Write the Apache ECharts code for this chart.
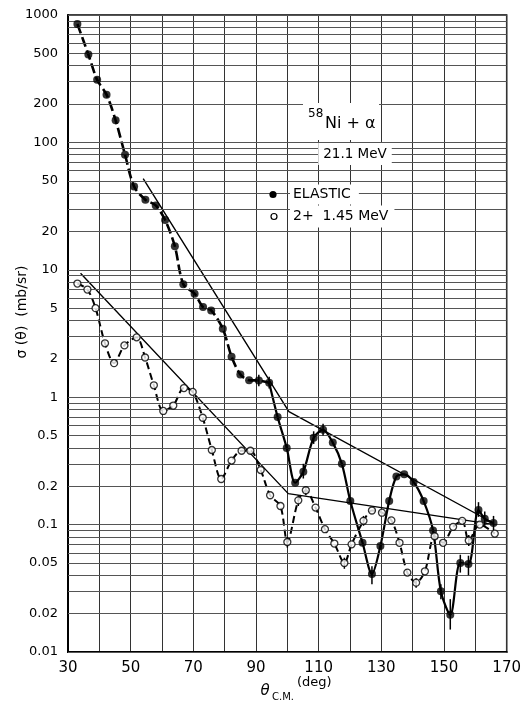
<!DOCTYPE html>
<html><head><meta charset="utf-8">
<script src="https://cdn.jsdelivr.net/npm/echarts/dist/echarts.min.js"></script>
<style>html,body{margin:0;padding:0;background:#fff}#c{width:524px;height:702px}</style>
</head><body><div id="c"></div>
<script>
// ---- data ----
const elasticTheta = [33, 36.5, 39.3, 42.3, 45.2, 48.2, 51.1, 54.7, 58, 61,
  64.1, 66.8, 70.4, 73.1, 75.7, 79.4, 82.2, 85, 87.8, 90.9,
  94.2, 96.9, 99.8, 102.5, 105.1, 108.4, 111.4, 114.5, 117.4, 120.1,
  124, 127, 129.7, 132.5, 134.8, 137.3, 140.3, 143.5, 146.5, 149,
  152, 155.2, 157.8, 161, 163, 165.8];
const elasticSigma = [850, 490, 310, 237, 149, 80, 45, 35.5, 32, 24.6,
  15.3, 7.7, 6.5, 5.1, 4.8, 3.45, 2.08, 1.51, 1.36, 1.35,
  1.3, 0.7, 0.4, 0.213, 0.26, 0.48, 0.555, 0.44, 0.30, 0.153,
  0.072, 0.041, 0.068, 0.153, 0.238, 0.248, 0.216, 0.153, 0.09, 0.030,
  0.0196, 0.050, 0.049, 0.13, 0.111, 0.103];

const inelasticTheta = [33, 36.2, 38.8, 41.8, 44.7, 48, 51.9, 54.6, 57.4, 60.4,
  63.6, 67, 69.8, 73, 75.9, 78.9, 82.2, 85.4, 88.2, 91.5,
  94.5, 97.8, 100, 103.5, 105.9, 109, 112, 115, 118.2, 120.5,
  124.3, 127, 130.2, 133.2, 135.8, 138.3, 141.1, 143.9, 147, 149.7,
  152.9, 155.8, 157.9, 161.4, 166.2];
const inelasticSigma = [7.8, 7.0, 5.0, 2.65, 1.85, 2.55, 2.95, 2.05, 1.24, 0.78,
  0.86, 1.18, 1.1, 0.69, 0.385, 0.228, 0.318, 0.38, 0.38, 0.268,
  0.17, 0.14, 0.073, 0.155, 0.186, 0.136, 0.092, 0.071, 0.050, 0.070,
  0.107, 0.129, 0.124, 0.108, 0.072, 0.042, 0.035, 0.043, 0.081, 0.072,
  0.096, 0.107, 0.075, 0.10, 0.085];

const elasticErrTheta = [90.9, 94.2, 105.1, 108.4, 111.4, 127, 149, 152, 155.2, 157.8, 161, 163, 165.8];
const elasticErrLow   = [1.22, 1.17, 0.23, 0.43, 0.5, 0.034, 0.026, 0.015, 0.042, 0.040, 0.115, 0.098, 0.09];
const elasticErrHigh  = [1.5, 1.45, 0.3, 0.54, 0.62, 0.047, 0.034, 0.026, 0.058, 0.057, 0.15, 0.127, 0.117];
const inelasticErrTheta = [100, 103.5, 105.9, 118.2, 124.3, 141.1, 147, 157.9];
const inelasticErrLow   = [0.066, 0.14, 0.17, 0.045, 0.098, 0.032, 0.075, 0.068];
const inelasticErrHigh  = [0.080, 0.17, 0.2, 0.055, 0.117, 0.038, 0.087, 0.083];

const envElasticTheta = [54, 100.5, 166];
const envElasticSigma = [52, 0.77, 0.102];
const envInelasticTheta = [34, 100.3, 166.2];
const envInelasticSigma = [9.4, 0.175, 0.1];

const yTickLabels = ['1000', '500', '200', '100', '50', '20', '10', '5', '2', '1', '0.5', '0.2', '0.1', '0.05', '0.02', '0.01'];
const xTickLabels = ['30', '50', '70', '90', '110', '130', '150', '170'];
const gridMantissas = [1, 2, 3, 4, 5, 6, 7, 8, 9];
const gridDecades = [0.01, 0.1, 1, 10, 100];

// ---- chart ----
const FONT = 'DejaVu Sans';
const pairs = (xs, ys) => xs.map((x, i) => [x, ys[i]]);
const elastic = pairs(elasticTheta, elasticSigma);
const inelastic = pairs(inelasticTheta, inelasticSigma);
const split = elasticTheta.indexOf(94.2);

const gridValues = [];
gridDecades.forEach(d => gridMantissas.forEach(m => gridValues.push(+(m * d).toPrecision(3))));
gridValues.push(1000);
const labelOf = v => yTickLabels.find(s => Math.abs(parseFloat(s) - v) < 1e-9 * Math.max(1, v));

const errRows = [];
elasticErrTheta.forEach((x, i) => errRows.push([x, elasticErrLow[i], elasticErrHigh[i]]));
inelasticErrTheta.forEach((x, i) => errRows.push([x, inelasticErrLow[i], inelasticErrHigh[i]]));

const chart = echarts.init(document.getElementById('c'));
chart.setOption({
  animation: false,
  backgroundColor: '#fff',
  grid: { left: 68, right: 12, top: 15, bottom: 50, show: true, borderColor: '#000', borderWidth: 1.5 },
  xAxis: {
    type: 'value', min: 30, max: 170, interval: 10,
    axisLine: { show: true, lineStyle: { color: '#000', width: 2 } },
    axisTick: { show: false },
    splitLine: { show: true, lineStyle: { color: '#333', width: 1 } },
    axisLabel: {
      color: '#000', fontFamily: FONT, fontSize: 15, margin: 9,
      formatter: v => xTickLabels.includes(String(v)) ? String(v) : ''
    }
  },
  yAxis: {
    type: 'log', logBase: 10, min: 0.01, max: 1000,
    axisLine: { show: true, lineStyle: { color: '#000', width: 2 } },
    axisTick: { show: false },
    axisLabel: { show: false },
    splitLine: { show: false }
  },
  series: [
    {
      type: 'line', z: 1, data: [[30, 1]], symbol: 'none', lineStyle: { opacity: 0 }, silent: true,
      markLine: {
        silent: true, symbol: ['none', 'none'], animation: false,
        lineStyle: { color: '#555', width: 1, type: 'solid' },
        label: { show: true, position: 'start', distance: 10, color: '#000', fontFamily: FONT, fontSize: 13, formatter: '{b}' },
        emphasis: { disabled: true },
        data: gridValues.map(v => {
          const lab = labelOf(v);
          return { name: lab || '', yAxis: v, label: { show: !!lab } };
        })
      }
    },
    { type: 'line', z: 3, data: pairs(envElasticTheta, envElasticSigma), symbol: 'none', lineStyle: { color: '#000', width: 1.4 }, silent: true },
    { type: 'line', z: 3, data: pairs(envInelasticTheta, envInelasticSigma), symbol: 'none', lineStyle: { color: '#000', width: 1.4 }, silent: true },
    { type: 'line', z: 4, data: elastic.slice(0, split + 1), smooth: 0.3, symbol: 'none', lineStyle: { color: '#000', width: 2.6, type: [10, 4] }, silent: true },
    { type: 'line', z: 4, data: elastic.slice(split), smooth: 0.3, symbol: 'none', lineStyle: { color: '#000', width: 2.2 }, silent: true },
    { type: 'line', z: 4, data: inelastic, smooth: 0.3, symbol: 'none', lineStyle: { color: '#000', width: 2, type: [7, 4] }, silent: true },
    {
      type: 'custom', z: 5, data: errRows, encode: { x: 0, y: [1, 2] }, silent: true,
      renderItem: (params, api) => {
        const p1 = api.coord([api.value(0), api.value(1)]);
        const p2 = api.coord([api.value(0), api.value(2)]);
        return { type: 'line', shape: { x1: p1[0], y1: p1[1], x2: p2[0], y2: p2[1] }, style: { stroke: '#000', lineWidth: 1.5 } };
      }
    },
    { name: 'ELASTIC', type: 'scatter', z: 6, data: elastic, symbol: 'circle', symbolSize: 8, itemStyle: { color: '#000' }, silent: true },
    { name: '2+ 1.45 MeV', type: 'scatter', z: 6, data: inelastic, symbol: 'circle', symbolSize: 7, itemStyle: { color: '#fff', borderColor: '#000', borderWidth: 1.3 }, silent: true }
  ],
  graphic: [
    { type: 'rect', z: 50, shape: { x: 303, y: 103, width: 76, height: 37 }, style: { fill: '#fff' } },
    { type: 'text', z: 51, x: 308, y: 108, style: { text: '58', font: '12px "DejaVu Sans"', fill: '#000', align: 'left', verticalAlign: 'top', textAlign: 'left', textVerticalAlign: 'top' } },
    { type: 'text', z: 51, x: 325, y: 116, style: { text: 'Ni + α', font: '16px "DejaVu Sans"', fill: '#000', align: 'left', verticalAlign: 'top', textAlign: 'left', textVerticalAlign: 'top' } },
    { type: 'text', z: 51, x: 355, y: 154, style: { text: '21.1 MeV', font: '13.5px "DejaVu Sans"', fill: '#000', align: 'center', verticalAlign: 'middle', textAlign: 'center', textVerticalAlign: 'middle', backgroundColor: '#fff', padding: [4, 5] } },
    { type: 'circle', z: 51, shape: { cx: 273, cy: 194.5, r: 3.6 }, style: { fill: '#000' } },
    { type: 'text', z: 51, x: 290, y: 194.5, style: { text: 'ELASTIC', font: '14px "DejaVu Sans"', fill: '#000', align: 'left', verticalAlign: 'middle', textAlign: 'left', textVerticalAlign: 'middle', backgroundColor: '#fff', padding: [3, 8, 3, 3] } },
    { type: 'circle', z: 51, shape: { cx: 274, cy: 216.5, r: 3 }, style: { fill: '#fff', stroke: '#000', lineWidth: 1.2 } },
    { type: 'text', z: 51, x: 290, y: 216.5, style: { text: '2+  1.45 MeV', font: '14px "DejaVu Sans"', fill: '#000', align: 'left', verticalAlign: 'middle', textAlign: 'left', textVerticalAlign: 'middle', backgroundColor: '#fff', padding: [4, 6, 4, 3] } },
    { type: 'text', z: 51, x: 22, y: 312, rotation: Math.PI / 2, style: { text: 'σ (θ)  (mb/sr)', font: '14px "DejaVu Sans"', fill: '#000', align: 'center', verticalAlign: 'middle', textAlign: 'center', textVerticalAlign: 'middle' } },
    { type: 'text', z: 51, x: 265, y: 691, style: { text: 'θ', font: 'italic 15px "DejaVu Sans"', fill: '#000', align: 'center', verticalAlign: 'middle', textAlign: 'center', textVerticalAlign: 'middle' } },
    { type: 'text', z: 51, x: 272, y: 697, style: { text: 'C.M.', font: '10px "DejaVu Sans"', fill: '#000', align: 'left', verticalAlign: 'middle', textAlign: 'left', textVerticalAlign: 'middle' } },
    { type: 'text', z: 51, x: 297, y: 683, style: { text: '(deg)', font: '13px "DejaVu Sans"', fill: '#000', align: 'left', verticalAlign: 'middle', textAlign: 'left', textVerticalAlign: 'middle' } }
  ]
});
</script>
</body></html>
